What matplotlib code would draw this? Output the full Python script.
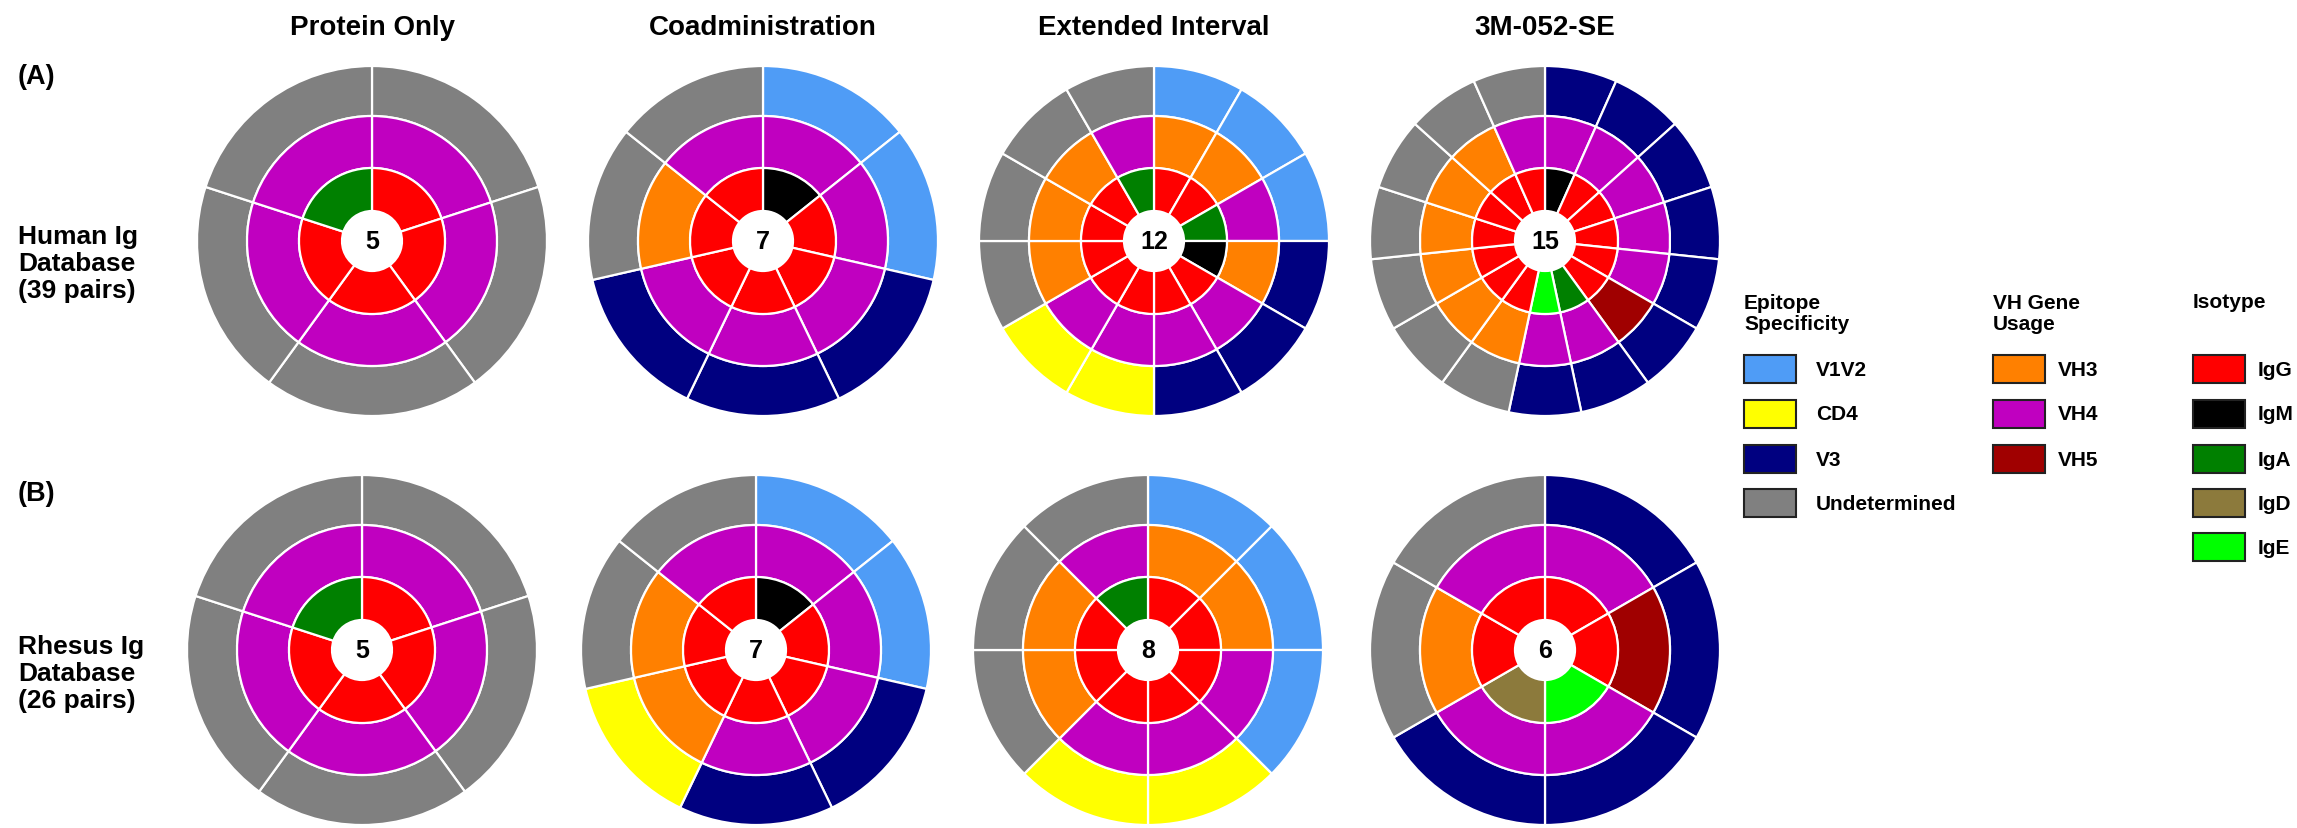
import matplotlib
matplotlib.use('Agg')
import matplotlib.pyplot as plt
from matplotlib.patches import Rectangle

plt.rcParams['font.family'] = ['Liberation Sans', 'DejaVu Sans']
plt.rcParams['font.weight'] = 'bold'

# ---- data: one entry per antibody pair, clockwise from 12 o'clock ----
titles = ['Protein Only', 'Coadministration', 'Extended Interval', '3M-052-SE']

human_epitope = [
    ['Undetermined', 'Undetermined', 'Undetermined', 'Undetermined', 'Undetermined'],
    ['V1V2', 'V1V2', 'V3', 'V3', 'V3', 'Undetermined', 'Undetermined'],
    ['V1V2', 'V1V2', 'V1V2', 'V3', 'V3', 'V3', 'CD4', 'CD4',
     'Undetermined', 'Undetermined', 'Undetermined', 'Undetermined'],
    ['V3', 'V3', 'V3', 'V3', 'V3', 'V3', 'V3', 'V3',
     'Undetermined', 'Undetermined', 'Undetermined', 'Undetermined',
     'Undetermined', 'Undetermined', 'Undetermined'],
]
human_vh = [
    ['VH4', 'VH4', 'VH4', 'VH4', 'VH4'],
    ['VH4', 'VH4', 'VH4', 'VH4', 'VH4', 'VH3', 'VH4'],
    ['VH3', 'VH3', 'VH4', 'VH3', 'VH4', 'VH4', 'VH4', 'VH4', 'VH3', 'VH3', 'VH3', 'VH4'],
    ['VH4', 'VH4', 'VH4', 'VH4', 'VH4', 'VH5', 'VH4', 'VH4',
     'VH3', 'VH3', 'VH3', 'VH3', 'VH3', 'VH3', 'VH4'],
]
human_isotype = [
    ['IgG', 'IgG', 'IgG', 'IgG', 'IgA'],
    ['IgM', 'IgG', 'IgG', 'IgG', 'IgG', 'IgG', 'IgG'],
    ['IgG', 'IgG', 'IgA', 'IgM', 'IgG', 'IgG', 'IgG', 'IgG', 'IgG', 'IgG', 'IgG', 'IgA'],
    ['IgM', 'IgG', 'IgG', 'IgG', 'IgG', 'IgG', 'IgA', 'IgE',
     'IgG', 'IgG', 'IgG', 'IgG', 'IgG', 'IgG', 'IgG'],
]

rhesus_epitope = [
    ['Undetermined', 'Undetermined', 'Undetermined', 'Undetermined', 'Undetermined'],
    ['V1V2', 'V1V2', 'V3', 'V3', 'CD4', 'Undetermined', 'Undetermined'],
    ['V1V2', 'V1V2', 'V1V2', 'CD4', 'CD4', 'Undetermined', 'Undetermined', 'Undetermined'],
    ['V3', 'V3', 'V3', 'V3', 'Undetermined', 'Undetermined'],
]
rhesus_vh = [
    ['VH4', 'VH4', 'VH4', 'VH4', 'VH4'],
    ['VH4', 'VH4', 'VH4', 'VH4', 'VH3', 'VH3', 'VH4'],
    ['VH3', 'VH3', 'VH4', 'VH4', 'VH4', 'VH3', 'VH3', 'VH4'],
    ['VH4', 'VH5', 'VH4', 'VH4', 'VH3', 'VH4'],
]
rhesus_isotype = [
    ['IgG', 'IgG', 'IgG', 'IgG', 'IgA'],
    ['IgM', 'IgG', 'IgG', 'IgG', 'IgG', 'IgG', 'IgG'],
    ['IgG', 'IgG', 'IgG', 'IgG', 'IgG', 'IgG', 'IgG', 'IgA'],
    ['IgG', 'IgG', 'IgE', 'IgD', 'IgG', 'IgG'],
]

epitope_keys = ['V1V2', 'CD4', 'V3', 'Undetermined']
vh_keys = ['VH3', 'VH4', 'VH5']
isotype_keys = ['IgG', 'IgM', 'IgA', 'IgD', 'IgE']

colors = {
    'V1V2': '#4f9cf6', 'CD4': '#ffff00', 'V3': '#000080', 'Undetermined': '#808080',
    'VH3': '#ff8000', 'VH4': '#c000c0', 'VH5': '#a00000',
    'IgG': '#ff0000', 'IgM': '#000000', 'IgA': '#008000', 'IgD': '#8c7a3c', 'IgE': '#00ff00',
}

# ---- layout (pixels, origin top-left) ----
W, H = 2297, 829
R = 175.0                      # outer radius of each donut
col_x = [[372, 763, 1154, 1545], [362, 756, 1148, 1545]]
row_y = [242, 651]
ring_outer = [1.0, 125 / R, 73 / R]      # epitope, VH, isotype
ring_width = [50 / R, 52 / R, 43 / R]

fig = plt.figure(figsize=(W / 100, H / 100), dpi=100)

ov = fig.add_axes([0, 0, 1, 1])
ov.set_xlim(0, W)
ov.set_ylim(H, 0)
ov.axis('off')


def donut(cx, cy, rings):
    half = 182
    ax = fig.add_axes([(cx - half) / W, (H - cy - half) / H, 2 * half / W, 2 * half / H])
    for cats, r, w in zip(rings, ring_outer, ring_width):
        ax.pie([1] * len(cats), colors=[colors[c] for c in cats], radius=r,
               startangle=90, counterclock=False,
               wedgeprops=dict(width=w, edgecolor='white', linewidth=1.6))
    ax.text(0, 0, str(len(rings[2])), ha='center', va='center', fontsize=18,
            fontweight='bold')
    lim = half / R
    ax.set_xlim(-lim, lim)
    ax.set_ylim(-lim, lim)
    ax.set_aspect('equal')
    ax.axis('off')


rows = [(human_epitope, human_vh, human_isotype),
        (rhesus_epitope, rhesus_vh, rhesus_isotype)]
for r_i, (ep, vh, iso) in enumerate(rows):
    for c_i in range(4):
        donut(col_x[r_i][c_i], row_y[r_i], (ep[c_i], vh[c_i], iso[c_i]))

for t, x in zip(titles, col_x[0]):
    ov.text(x, 28, t, ha='center', va='center', fontsize=20, fontweight='bold')

ov.text(18, 77, '(A)', ha='left', va='center', fontsize=19.5, fontweight='bold')
ov.text(18, 494, '(B)', ha='left', va='center', fontsize=19.5, fontweight='bold')
ov.text(18, 264, 'Human Ig\nDatabase\n(39 pairs)', ha='left', va='center',
        fontsize=19, fontweight='bold', linespacing=1.15)
ov.text(18, 674, 'Rhesus Ig\nDatabase\n(26 pairs)', ha='left', va='center',
        fontsize=19, fontweight='bold', linespacing=1.15)

# ---- legend ----
item_y = [370, 415, 460, 504, 548]
legend_cols = [
    ('Epitope\nSpecificity', epitope_keys, 1744, 1816),
    ('VH Gene\nUsage', vh_keys, 1993, 2058),
    ('Isotype', isotype_keys, 2193, 2258),
]
for header, keys, bx, tx in legend_cols:
    hy = 314 if '\n' in header else 302
    ov.text(bx, hy, header, ha='left', va='center', fontsize=15, fontweight='bold',
            linespacing=1.15)
    for k, y in zip(keys, item_y):
        ov.add_patch(Rectangle((bx, y - 14), 52, 28, facecolor=colors[k],
                               edgecolor='#222222', linewidth=1.5))
        ov.text(tx, y, k, ha='left', va='center', fontsize=15, fontweight='bold')

fig.savefig('out.png', dpi=100)
